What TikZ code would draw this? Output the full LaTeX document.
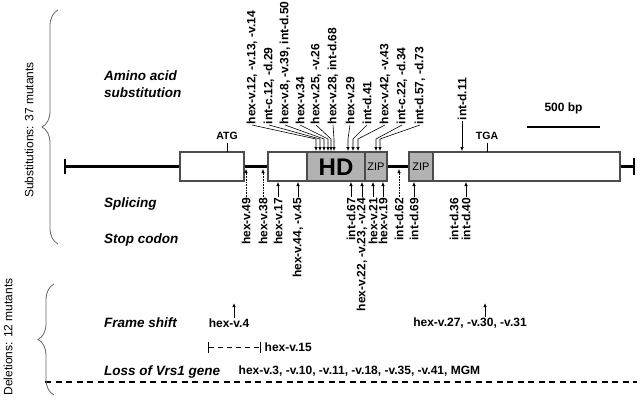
\documentclass[tikz,border=0pt]{standalone}
\usepackage{fontspec}
\setmainfont{Liberation Sans}
\usetikzlibrary{arrows.meta, calc, decorations.pathreplacing}

\tikzset{
  lab/.style={font=\fontsize{12}{13}\selectfont\bfseries, rotate=90, inner sep=0.5pt},
  labh/.style={font=\fontsize{12}{13}\selectfont\bfseries, inner sep=0.5pt},
  cat/.style={font=\fontsize{13.5}{17}\selectfont\bfseries\itshape, anchor=west, align=left, inner sep=0pt},
  side/.style={font=\fontsize{12}{13}\selectfont, rotate=90, inner sep=0pt},
  exon/.style={draw=black!70, line width=1.2pt, fill=white},
  dom/.style={draw=black!70, line width=1.2pt, fill=black!30},
  intron/.style={line width=3.5pt},
  hit/.style={-{Latex[length=4pt,width=3.5pt]}, line width=0.6pt},
  splice/.style={hit, densely dotted},
  brc/.style={decorate, decoration={brace, amplitude=16pt}, draw=black!60, line width=0.8pt},
  ivl/.style={{Bar[width=11pt]}-{Bar[width=11pt]}, dash pattern=on 5pt off 4pt, line width=0.9pt},
}

\begin{document}
\begin{tikzpicture}[x=1pt, y=-1pt]
  \useasboundingbox (0,0) rectangle (642,404);

  % gene model
  \coordinate (L) at (65,166.5);
  \coordinate (R) at (634,166.5);
  \coordinate (top) at (0,152);
  \draw[intron] (L) -- (R);
  \draw[line width=1.6pt] (65,159) -- (65,174);
  \draw[line width=1.6pt] (634,158) -- (634,175);
  \draw[exon] (180,152) rectangle (244,181);
  \draw[exon] (268,152) rectangle (307,181);
  \draw[dom] (307,152) rectangle (365,181);
  \draw[dom] (365,152) rectangle (387,181);
  \draw[dom] (409,152) rectangle (433,181);
  \draw[exon] (433,152) rectangle (620,181);
  \node[font=\fontsize{24}{24}\selectfont\bfseries] (hd) at (336,167) {HD};
  \node[font=\fontsize{11}{11}\selectfont, inner sep=0pt] (zip1) at (376,166.5) {ZIP};
  \node[font=\fontsize{11}{11}\selectfont, inner sep=0pt] (zip2) at (421,166.5) {ZIP};

  \node[font=\fontsize{10.5}{10}\selectfont\bfseries] (atg) at (227,136) {ATG};
  \draw[line width=0.7pt] (atg.south) -- (atg.south |- top);
  \node[font=\fontsize{10.5}{10}\selectfont\bfseries] (tga) at (487,136) {TGA};
  \draw[line width=0.7pt] (tga.south) -- (tga.south |- top);

  \coordinate (sb1) at (527,127);
  \coordinate (sb2) at (600,127);
  \draw[line width=2.5pt] (sb1) -- (sb2) node[midway, above=8pt, font=\fontsize{12}{12}\selectfont\bfseries] (sbl) {500 bp};

  % amino acid substitutions (above)
  \coordinate (bend) at (0,139);
  \foreach \lx/\ax/\txt [count=\i] in {252/316/{hex-v.12, -v.13, -v.14}, 269/320/{int-c.12, -d.29},
      285/324/{hex-v.8, -v.39, int-d.50}, 300/328/{hex-v.34}, 316/331/{hex-v.25, -v.26},
      333/334/{hex-v.28, int-d.68}, 350/348/{hex-v.29}, 367/353/{int-d.41},
      385/358/{hex-v.42, -v.43}, 402/376/{int-c.22, -d.34}, 420/380/{int-d.57, -d.73}}{
    \coordinate (a\i) at (\ax,151);
    \node[lab, anchor=west] (t\i) at (\lx,125) {\txt};
    \draw[hit] (t\i.west) -- (a\i |- bend) -- (a\i);
  }
  \coordinate (a12) at (462,151);
  \node[lab, anchor=west] (t12) at (462,121) {int-d.11};
  \draw[hit] (t12.west) -- (a12);

  % splicing and stop codons (below)
  \foreach \x/\ty/\txt/\sty [count=\i] in {246/169/hex-v.49/splice, 263/169/hex-v.38/splice,
      278/182/hex-v.17/hit, 298/182/{hex-v.44, -v.45}/hit, 351/182/int-d.67/hit,
      362/182/{hex-v.22, -v.23, -v.24}/hit, 373/182/hex-v.21/hit, 383/182/hex-v.19/hit,
      399/169/int-d.62/splice, 414/182/int-d.69/hit, 466/182/int-d.40/hit}{
    \coordinate (c\i) at (\x,\ty);
    \node[lab, anchor=east] (b\i) at (\x,197) {\txt};
    \draw[\sty] (b\i.east) -- (c\i);
  }
  \node[lab, anchor=east] (b12) at (454,197) {int-d.36};

  % categories
  \node[cat] (aa) at (104,84) {Amino acid\\substitution};
  \node[cat] (sp) at (104,204) {Splicing};
  \node[cat] (sc) at (104,240) {Stop codon};
  \node[cat] (fs) at (104,323) {Frame shift};
  \node[cat] (loss) at (104,372) {Loss of Vrs1 gene};

  % deletions
  \node[labh] (m4) at (229,323) {hex-v.4};
  \coordinate (p4) at (234,303);
  \draw[hit, line width=0.9pt] (m4.north -| p4) -- (p4);
  \node[labh] (m27) at (470,323) {hex-v.27, -v.30, -v.31};
  \coordinate (p27) at (485,303);
  \draw[hit, line width=0.9pt] (m27.north -| p27) -- (p27);
  \coordinate (d1) at (208,347);
  \coordinate (d2) at (261,347);
  \draw[ivl] (d1) -- (d2);
  \node[labh, anchor=west, xshift=3pt] (m15) at (d2) {hex-v.15};
  \node[labh, anchor=west] (mgm) at (238,371) {hex-v.3, -v.10, -v.11, -v.18, -v.35, -v.41, MGM};
  \coordinate (dl1) at (45,382);
  \coordinate (dl2) at (637,382);
  \draw[line width=2.2pt, dash pattern=on 6pt off 4.5pt] (dl1) -- (dl2);

  % braces
  \draw[brc] (58,244) -- (58,10);
  \node[side] (sub) at (29,130) {Substitutions: 37 mutants};
  \draw[brc] (54,395) -- (54,284);
  \node[side] (del) at (8,337) {Deletions: 12 mutants};
\end{tikzpicture}
\end{document}
